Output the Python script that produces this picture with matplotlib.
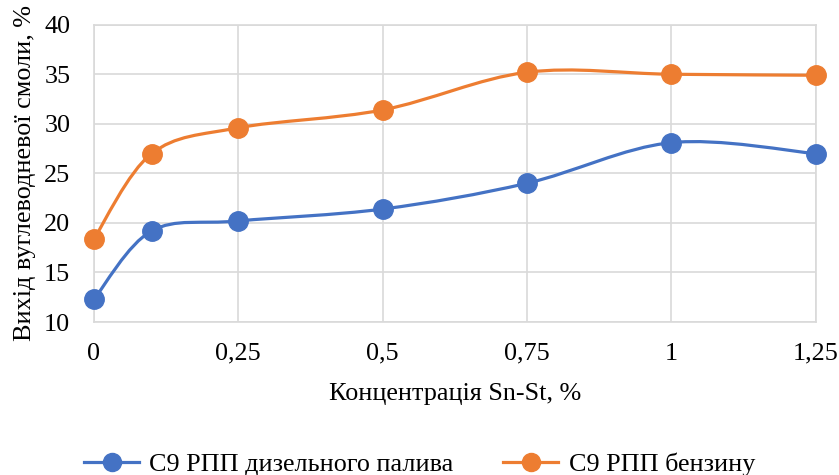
import numpy as np
import matplotlib.pyplot as plt
from matplotlib.path import Path
from matplotlib.patches import PathPatch
from matplotlib.lines import Line2D

plt.rcParams['font.family'] = ['Liberation Serif', 'DejaVu Serif']

# Data
conc = [0, 0.1, 0.25, 0.5, 0.75, 1, 1.25]
diesel = [12.3, 19.2, 20.2, 21.4, 24.0, 28.1, 27.0]
petrol = [18.4, 27.0, 29.6, 31.4, 35.2, 35.0, 34.9]
labels = ['С9 РПП дизельного палива', 'С9 РПП бензину']
colors = ['#4472c4', '#ed7d31']

FS = 18.8


def smooth_path(x, y):
    # Excel-like smoothed line: bezier segments with Catmull-Rom control points
    p = np.column_stack([x, y]).astype(float)
    ext = np.vstack([p[0], p, p[-1]])
    verts = [p[0]]
    codes = [Path.MOVETO]
    for i in range(len(p) - 1):
        p0, p1, p2, p3 = ext[i], ext[i + 1], ext[i + 2], ext[i + 3]
        c1 = p1 + (p2 - p0) / 6
        c2 = p2 - (p3 - p1) / 6
        verts += [c1, c2, p2]
        codes += [Path.CURVE4] * 3
    return Path(verts, codes)


fig = plt.figure(figsize=(8.39, 4.75), dpi=100)
ax = fig.add_axes([0.112, 0.322, 0.860, 0.626])

for ys, c in zip([diesel, petrol], colors):
    ax.add_patch(PathPatch(smooth_path(conc, ys), fill=False, edgecolor=c,
                           linewidth=2.3, capstyle='round', zorder=3))
    ax.plot(conc, ys, 'o', color=c, markersize=14, zorder=4, clip_on=False)

ax.set_xlim(0, 1.25)
ax.set_ylim(10, 40)
ax.set_xticks([0, 0.25, 0.5, 0.75, 1, 1.25])
ax.set_xticklabels(['0', '0,25', '0,5', '0,75', '1', '1,25'])
ax.set_yticks(range(10, 41, 5))
ax.grid(True, color='#d9d9d9', linewidth=1.2)
ax.set_axisbelow(True)
for s in ax.spines.values():
    s.set_color('#d9d9d9')
    s.set_linewidth(1.2)
ax.tick_params(length=0, labelsize=FS, colors='#000000')
ax.tick_params(axis='y', pad=17)
ax.tick_params(axis='x', pad=15)

ax.set_xlabel('Концентрація Sn-St, %', fontsize=FS, labelpad=13)
ax.set_ylabel('Вихід вуглеводневої смоли, %', fontsize=FS, labelpad=6)

handles = [Line2D([], [], color=c, linewidth=2.3, marker='o', markersize=13)
           for c in colors]
fig.legend(handles, labels, loc='lower center', ncol=2, frameon=False,
           fontsize=FS, bbox_to_anchor=(0.5, -0.052), handlelength=2.1,
           columnspacing=1.9, handletextpad=0.4)

fig.savefig('out.png', dpi=100)
